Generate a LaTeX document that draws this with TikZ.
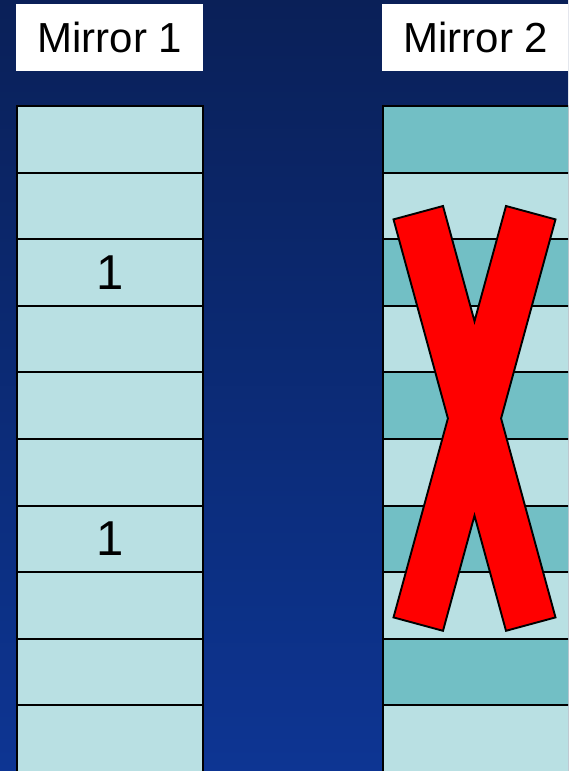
\documentclass[tikz,border=0pt]{standalone}
\usepackage{fontspec}
\setmainfont{Liberation Sans}
\definecolor{bgtop}{RGB}{10,32,88}
\definecolor{bgbot}{RGB}{13,53,147}
\definecolor{cellpale}{RGB}{185,224,227}
\definecolor{cellteal}{RGB}{114,191,197}
\begin{document}
\begin{tikzpicture}[x=1pt,y=-1pt,
  tag/.style={fill=white,inner sep=0pt,minimum width=187pt,minimum height=67.4pt,anchor=north west,font=\fontsize{42}{50}\selectfont},
  cell/.style={draw=black,line width=1.9pt,inner sep=0pt,minimum width=186pt,anchor=north west},
  num/.style={font=\fontsize{49}{58}\selectfont}]
\clip (0,0) rectangle (568,771);
\shade[top color=bgtop,bottom color=bgbot] (0,0) rectangle (568,771);
% column headings
\node[tag] (m1) at (16,3.3) {Mirror 1};
\node[tag] (m2) at (382,3.3) {Mirror 2};
% blocks of both mirrors
\foreach \i in {0,...,9}{
  \pgfmathsetmacro\rowh{ifthenelse(\i==9,90,66.6)}
  \ifodd\i \def\rowcol{cellpale}\else\def\rowcol{cellteal}\fi
  \node[cell,fill=cellpale,minimum height=\rowh pt] (a\i) at (16,105+66.6*\i) {};
  \node[cell,fill=\rowcol,minimum height=\rowh pt] (b\i) at (382,105+66.6*\i) {};
}
\node[num] (n1) at (a2.center) {1};
\node[num] (n2) at (a6.center) {1};
% failed mirror
\filldraw[fill=red,draw=black,line width=1.9pt,shift={(474.5,418.4)}]
  (-81,-199) -- (-31.5,-212.4) -- (0,-97.2) -- (31.5,-212.4) -- (81,-199)
  -- (26.6,0) -- (81,199) -- (31.5,212.4) -- (0,97.2) -- (-31.5,212.4)
  -- (-81,199) -- (-26.6,0) -- cycle;
\end{tikzpicture}
\end{document}
